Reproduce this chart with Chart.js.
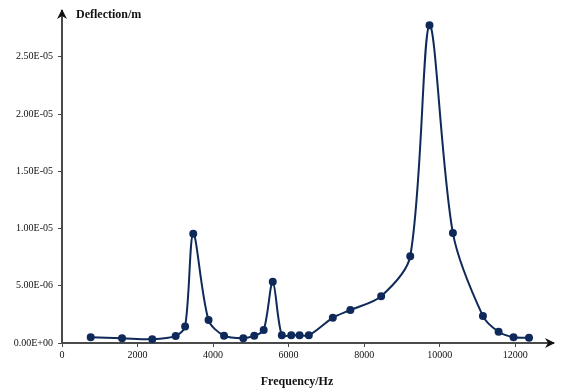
<!DOCTYPE html>
<html>
<head>
<meta charset="utf-8">
<script src="https://cdn.jsdelivr.net/npm/chart.js@4/dist/chart.umd.min.js"></script>
<style>
  html, body { margin: 0; padding: 0; background: #fff; }
  #wrap { width: 564px; height: 390px; }
</style>
</head>
<body>
<div id="wrap"><canvas id="chart"></canvas></div>
<script>
const frequency = [760, 1590, 2390, 3010, 3260, 3475, 3880, 4290, 4800, 5090, 5340, 5580, 5820, 6070, 6290, 6535, 7170, 7635, 8450, 9220, 9730, 10350, 11145, 11560, 11955, 12365];
const deflection = [0.50e-6, 0.42e-6, 0.33e-6, 0.62e-6, 1.45e-6, 9.55e-6, 2.0e-6, 0.64e-6, 0.42e-6, 0.64e-6, 1.13e-6, 5.34e-6, 0.67e-6, 0.67e-6, 0.67e-6, 0.67e-6, 2.2e-6, 2.88e-6, 4.09e-6, 7.58e-6, 2.776e-5, 9.6e-6, 2.35e-6, 0.98e-6, 0.5e-6, 0.46e-6];
const xTicks = [0, 2000, 4000, 6000, 8000, 10000, 12000];
const yTicks = [0, 5e-6, 1e-5, 1.5e-5, 2e-5, 2.5e-5];

const lineColor = '#0f2a5a';
const axisColor = '#4a4a4a';

function sci(v) {
  if (v === 0) return '0.00E+00';
  let [m, e] = v.toExponential(2).split('e');
  let n = parseInt(e, 10);
  let s = n < 0 ? '-' : '+';
  return m + 'E' + s + String(Math.abs(n)).padStart(2, '0');
}

const axesDecor = {
  id: 'axesDecor',
  afterDraw(c) {
    const ctx = c.ctx, a = c.chartArea;
    ctx.save();
    ctx.fillStyle = '#111';
    // y arrow
    ctx.beginPath();
    ctx.moveTo(a.left, a.top - 2);
    ctx.lineTo(a.left - 5, a.top + 8);
    ctx.lineTo(a.left, a.top + 5);
    ctx.lineTo(a.left + 5, a.top + 8);
    ctx.closePath();
    ctx.fill();
    // x arrow
    ctx.beginPath();
    ctx.moveTo(a.right + 2, a.bottom);
    ctx.lineTo(a.right - 8, a.bottom - 5);
    ctx.lineTo(a.right - 5, a.bottom);
    ctx.lineTo(a.right - 8, a.bottom + 5);
    ctx.closePath();
    ctx.fill();
    ctx.font = 'bold 12px "Liberation Serif"';
    ctx.textBaseline = 'middle';
    ctx.textAlign = 'left';
    ctx.fillText('Deflection/m', 76, 15);
    ctx.textAlign = 'center';
    ctx.fillText('Frequency/Hz', 297, 382);
    ctx.restore();
  }
};

new Chart(document.getElementById('chart'), {
  type: 'scatter',
  data: {
    datasets: [{
      data: frequency.map((f, i) => ({ x: f, y: deflection[i] })),
      showLine: true,
      borderColor: lineColor,
      backgroundColor: lineColor,
      borderWidth: 2,
      pointRadius: 3,
      pointHoverRadius: 3,
      tension: 0.3,
      cubicInterpolationMode: 'default'
    }]
  },
  options: {
    responsive: true,
    maintainAspectRatio: false,
    animation: false,
    layout: { padding: { top: 10, right: 11, left: 0, bottom: 0 } },
    plugins: { legend: { display: false }, tooltip: { enabled: false } },
    scales: {
      x: {
        type: 'linear',
        min: 0,
        max: 13000,
        afterFit: s => { s.height = 47; },
        afterBuildTicks: s => { s.ticks = xTicks.map(v => ({ value: v })); },
        border: { color: axisColor, width: 2 },
        grid: { display: true, drawOnChartArea: false, tickLength: 4, color: axisColor },
        ticks: { color: '#111', font: { family: 'Liberation Serif', size: 10 }, padding: 2, maxRotation: 0, callback: v => String(v) }
      },
      y: {
        min: 0,
        max: 2.9e-5,
        afterFit: s => { s.width = 62; },
        afterBuildTicks: s => { s.ticks = yTicks.map(v => ({ value: v })); },
        border: { color: axisColor, width: 2 },
        grid: { display: true, drawOnChartArea: false, tickLength: 4, color: axisColor },
        ticks: { color: '#111', font: { family: 'Liberation Serif', size: 10 }, padding: 5, callback: v => sci(v) }
      }
    }
  },
  plugins: [axesDecor]
});
</script>
</body>
</html>
